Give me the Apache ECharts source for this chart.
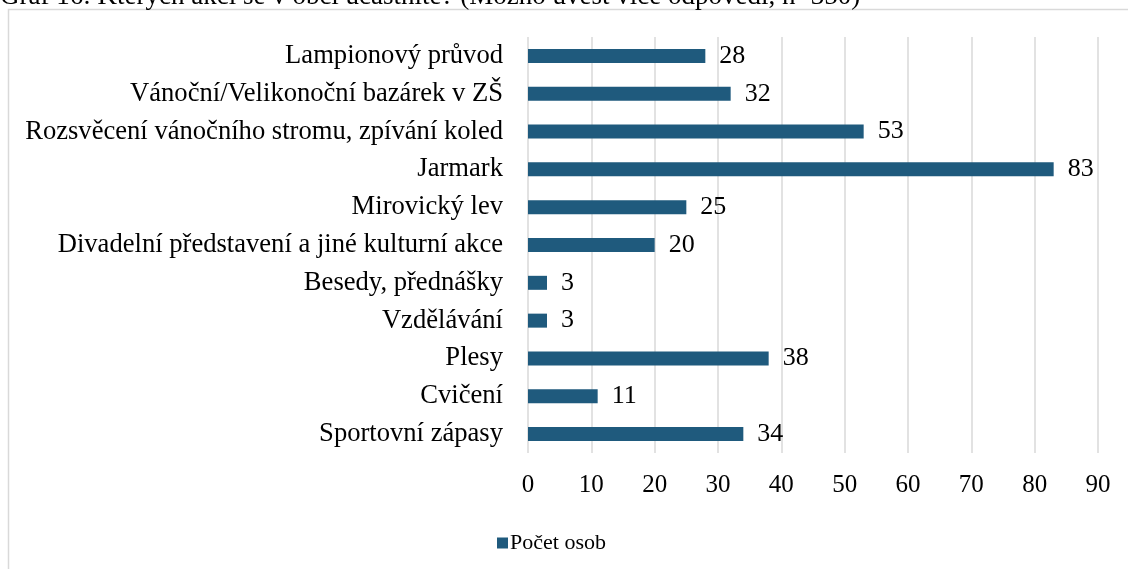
<!DOCTYPE html>
<html>
<head>
<meta charset="utf-8">
<script src="https://cdn.jsdelivr.net/npm/echarts@6/dist/echarts.min.js"></script>
<style>
  html, body { margin: 0; padding: 0; background: #fff; }
  #chart { width: 1128px; height: 569px; }
</style>
</head>
<body>
<div id="chart"></div>
<script>
// data, top to bottom
const categories = [
  'Lampionový průvod',
  'Vánoční/Velikonoční bazárek v ZŠ',
  'Rozsvěcení vánočního stromu, zpívání koled',
  'Jarmark',
  'Mirovický lev',
  'Divadelní představení a jiné kulturní akce',
  'Besedy, přednášky',
  'Vzdělávání',
  'Plesy',
  'Cvičení',
  'Sportovní zápasy'
]
const counts = [28, 32, 53, 83, 25, 20, 3, 3, 38, 11, 34]
const seriesName = 'Počet osob'
const captionText = 'Graf 16: Kterých akcí se v obci účastníte? (Možno uvést více odpovědí, n=350)'

const serif = '"Liberation Serif", "Times New Roman", serif'

const myChart = echarts.init(document.getElementById('chart'))
myChart.setOption({
  animation: false,
  textStyle: { fontFamily: serif, color: '#000' },
  graphic: [
    {
      type: 'rect',
      shape: { x: 8.5, y: 9.5, width: 1300, height: 800 },
      style: { fill: 'none', stroke: '#d9d9d9', lineWidth: 1.5 },
      silent: true
    },
    {
      type: 'text',
      left: 0,
      top: -17,
      style: { text: captionText, font: '27px ' + serif, fill: '#000' },
      silent: true
    }
  ],
  grid: { left: 528, right: 30, top: 37, bottom: 116, containLabel: false },
  legend: {
    data: [seriesName],
    left: 492,
    top: 527,
    icon: 'rect',
    itemWidth: 11,
    itemHeight: 11,
    textStyle: { fontFamily: serif, fontSize: 22, color: '#000', padding: [0, 0, 0, -3] }
  },
  xAxis: {
    type: 'value',
    min: 0,
    max: 90,
    interval: 10,
    axisLine: { show: false },
    axisTick: { show: false },
    splitLine: { show: true, lineStyle: { color: '#d9d9d9', width: 1.5 } },
    axisLabel: { fontFamily: serif, fontSize: 25, color: '#000', margin: 20 }
  },
  yAxis: {
    type: 'category',
    data: categories,
    inverse: true,
    axisLine: { show: false },
    axisTick: { show: false },
    axisLabel: { fontFamily: serif, fontSize: 26.6, color: '#000', margin: 25 }
  },
  series: [
    {
      name: seriesName,
      type: 'bar',
      data: counts,
      barWidth: 14,
      itemStyle: { color: '#1f5a7d' },
      label: {
        show: true,
        position: 'right',
        distance: 14,
        fontFamily: serif,
        fontSize: 26,
        color: '#000'
      }
    }
  ]
})
</script>
</body>
</html>
